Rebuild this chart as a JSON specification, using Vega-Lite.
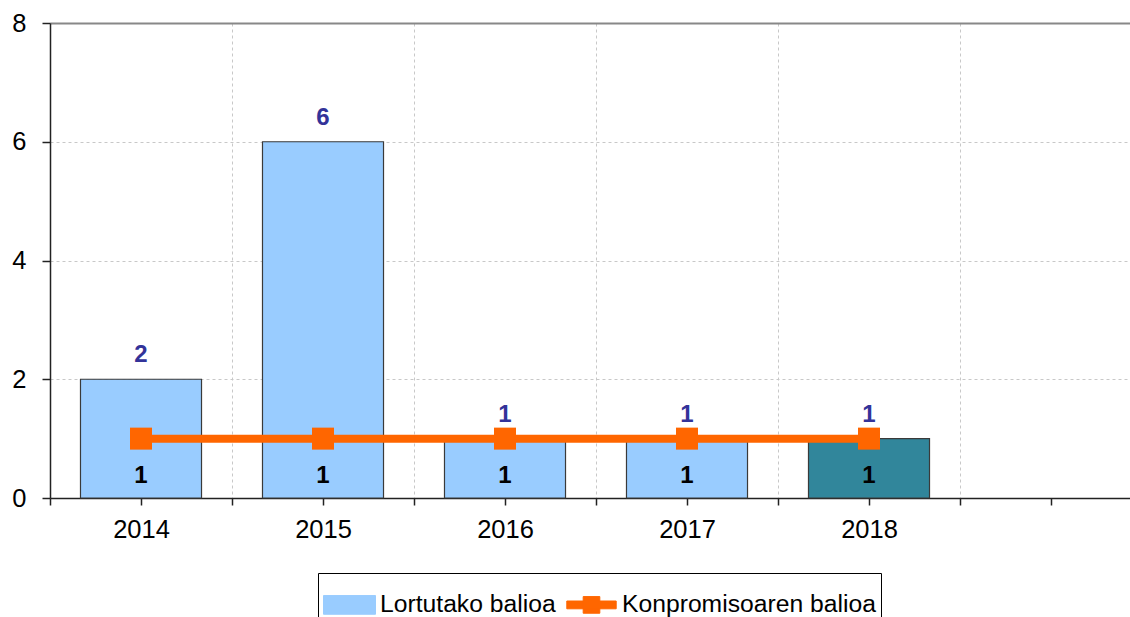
{
  "$schema": "https://vega.github.io/schema/vega-lite/v6.json",
  "autosize": {"type": "none"},
  "width": 1080,
  "height": 475,
  "padding": {"left": 50, "top": 23, "right": 0, "bottom": 119},
  "background": "white",
  "config": {"view": {"stroke": null}, "font": "Liberation Sans"},
  "data": {
    "values": [
      {"year": "2014", "serie": "Lortutako balioa", "value": 2},
      {"year": "2015", "serie": "Lortutako balioa", "value": 6},
      {"year": "2016", "serie": "Lortutako balioa", "value": 1},
      {"year": "2017", "serie": "Lortutako balioa", "value": 1},
      {"year": "2018", "serie": "Lortutako balioa", "value": 1},
      {"year": "2014", "serie": "Konpromisoaren balioa", "value": 1},
      {"year": "2015", "serie": "Konpromisoaren balioa", "value": 1},
      {"year": "2016", "serie": "Konpromisoaren balioa", "value": 1},
      {"year": "2017", "serie": "Konpromisoaren balioa", "value": 1},
      {"year": "2018", "serie": "Konpromisoaren balioa", "value": 1}
    ]
  },
  "resolve": {"axis": {"x": "independent"}},
  "layer": [
    {
      "transform": [{"filter": "datum.serie === 'Lortutako balioa'"}],
      "mark": {"type": "bar", "stroke": "#3a3a3a", "strokeWidth": 1.2, "width": {"band": 0.665}},
      "encoding": {
        "x": {
          "field": "year", "type": "nominal",
          "scale": {"domain": ["2014", "2015", "2016", "2017", "2018", ""], "range": [0, 1092], "paddingInner": 0, "paddingOuter": 0},
          "axis": {
            "title": null, "orient": "bottom", "labelAngle": 0, "tickBand": "extent",
            "grid": true, "gridColor": "#c8c8c8", "gridDash": [3, 3], "gridWidth": 1,
            "domainColor": "#222", "domainWidth": 1.5, "tickColor": "#222", "tickSize": 7, "tickWidth": 1.5,
            "labelFontSize": 25.5, "labelColor": "#000", "labelPadding": 12
          }
        },
        "y": {
          "field": "value", "type": "quantitative",
          "scale": {"domain": [0, 8], "nice": false},
          "axis": {
            "title": null, "values": [0, 2, 4, 6, 8], "format": "d", "grid": true,
            "gridColor": {"condition": {"test": "datum.value === 8", "value": "#888888"}, "value": "#c8c8c8"},
            "gridDash": {"condition": {"test": "datum.value === 8", "value": []}, "value": [3, 3]},
            "gridWidth": {"condition": {"test": "datum.value === 8", "value": 2}, "value": 1},
            "domainColor": "#222", "domainWidth": 1.5, "tickColor": "#222", "tickSize": 8, "tickWidth": 1.5,
            "labelFontSize": 25.5, "labelColor": "#000", "labelPadding": 16
          }
        },
        "color": {
          "condition": {"test": "datum.year === '2018'", "value": "#31869B"},
          "field": "serie", "type": "nominal",
          "scale": {"domain": ["Lortutako balioa", "Konpromisoaren balioa"], "range": ["#99CCFF", "#FF6600"]},
          "legend": {
            "title": null, "orient": "none", "legendX": 268, "legendY": 550, "direction": "horizontal",
            "strokeColor": "#000", "padding": 5, "labelFontSize": 24.7, "labelColor": "#000", "labelLimit": 0,
            "labelOffset": 4, "columnPadding": 8, "symbolSize": 2704,
            "encode": {
              "symbols": {
                "update": {
                  "shape": {"signal": "datum.value === 'Lortutako balioa' ? 'M-1,-0.36H1V0.36H-1Z' : 'M-0.95,-0.15H0.95V0.15H-0.95Z M-0.32,-0.32H0.32V0.32H-0.32Z'"},
                  "fill": {"signal": "datum.value === 'Lortutako balioa' ? '#99CCFF' : '#FF6600'"},
                  "stroke": {"signal": "datum.value === 'Lortutako balioa' ? '#333333' : '#FF6600'"},
                  "strokeWidth": {"value": 1},
                  "opacity": {"value": 1}
                }
              }
            }
          }
        }
      }
    },
    {
      "transform": [{"filter": "datum.serie === 'Konpromisoaren balioa'"}],
      "mark": {"type": "line", "strokeWidth": 8, "point": {"shape": "square", "size": 484, "filled": true, "color": "#FF6600", "opacity": 1}},
      "encoding": {
        "x": {
          "field": "year", "type": "nominal",
          "axis": {"title": null, "orient": "bottom", "labels": false, "grid": false, "domain": false, "tickBand": "center", "tickColor": "#222", "tickSize": 7, "tickWidth": 1.5}
        },
        "y": {"field": "value", "type": "quantitative"},
        "color": {
          "field": "serie", "type": "nominal",
          "legend": {
            "title": null, "orient": "none", "legendX": 268, "legendY": 550, "direction": "horizontal",
            "strokeColor": "#000", "padding": 5, "labelFontSize": 24.7, "labelColor": "#000", "labelLimit": 0,
            "labelOffset": 4, "columnPadding": 8, "symbolSize": 2704,
            "encode": {
              "symbols": {
                "update": {
                  "shape": {"signal": "datum.value === 'Lortutako balioa' ? 'M-1,-0.36H1V0.36H-1Z' : 'M-0.95,-0.15H0.95V0.15H-0.95Z M-0.32,-0.32H0.32V0.32H-0.32Z'"},
                  "fill": {"signal": "datum.value === 'Lortutako balioa' ? '#99CCFF' : '#FF6600'"},
                  "stroke": {"signal": "datum.value === 'Lortutako balioa' ? '#333333' : '#FF6600'"},
                  "strokeWidth": {"value": 1},
                  "opacity": {"value": 1}
                }
              }
            }
          }
        }
      }
    },
    {
      "transform": [{"filter": "datum.serie === 'Lortutako balioa'"}],
      "mark": {"type": "text", "dy": -24, "baseline": "middle", "fontSize": 24, "fontWeight": "bold", "color": "#333399"},
      "encoding": {
        "x": {"field": "year", "type": "nominal", "axis": null},
        "y": {"field": "value", "type": "quantitative"},
        "text": {"field": "value", "type": "quantitative"}
      }
    },
    {
      "transform": [{"filter": "datum.serie === 'Konpromisoaren balioa'"}],
      "mark": {"type": "text", "dy": 37, "baseline": "middle", "fontSize": 24, "fontWeight": "bold", "color": "#000"},
      "encoding": {
        "x": {"field": "year", "type": "nominal", "axis": null},
        "y": {"field": "value", "type": "quantitative"},
        "text": {"field": "value", "type": "quantitative"}
      }
    }
  ]
}
